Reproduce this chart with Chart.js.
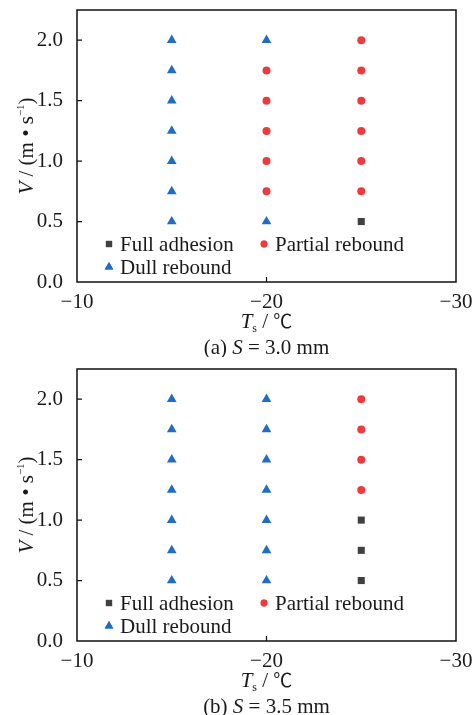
<!DOCTYPE html>
<html>
<head>
<meta charset="utf-8">
<script src="https://cdn.jsdelivr.net/npm/chart.js@4.4.1/dist/chart.umd.min.js"></script>
<style>
  html, body { margin: 0; padding: 0; background: #fff; overflow: hidden; }
  .panel { position: absolute; left: 0; width: 472px; height: 357px; }
</style>
</head>
<body>
<div class="panel" style="top:0"><canvas id="chartA" width="472" height="357"></canvas></div>
<div class="panel" style="top:359px"><canvas id="chartB" width="472" height="357"></canvas></div>
<script>
// surface temperature (x) and impact speed (y) values
const xTicks = [-10, -20, -30]
const yTicks = [0, 0.5, 1.0, 1.5, 2.0]

// (a) S = 3.0 mm
const fullA = [{x: -25, y: 0.5}]
const partialA = [
  {x: -20, y: 0.75}, {x: -20, y: 1.0}, {x: -20, y: 1.25}, {x: -20, y: 1.5}, {x: -20, y: 1.75},
  {x: -25, y: 0.75}, {x: -25, y: 1.0}, {x: -25, y: 1.25}, {x: -25, y: 1.5}, {x: -25, y: 1.75}, {x: -25, y: 2.0}
]
const dullA = [
  {x: -15, y: 0.5}, {x: -15, y: 0.75}, {x: -15, y: 1.0}, {x: -15, y: 1.25}, {x: -15, y: 1.5}, {x: -15, y: 1.75}, {x: -15, y: 2.0},
  {x: -20, y: 0.5}, {x: -20, y: 2.0}
]

// (b) S = 3.5 mm
const fullB = [{x: -25, y: 0.5}, {x: -25, y: 0.75}, {x: -25, y: 1.0}]
const partialB = [{x: -25, y: 1.25}, {x: -25, y: 1.5}, {x: -25, y: 1.75}, {x: -25, y: 2.0}]
const dullB = [
  {x: -15, y: 0.5}, {x: -15, y: 0.75}, {x: -15, y: 1.0}, {x: -15, y: 1.25}, {x: -15, y: 1.5}, {x: -15, y: 1.75}, {x: -15, y: 2.0},
  {x: -20, y: 0.5}, {x: -20, y: 0.75}, {x: -20, y: 1.0}, {x: -20, y: 1.25}, {x: -20, y: 1.5}, {x: -20, y: 1.75}, {x: -20, y: 2.0}
]

const seriesNames = ['Full adhesion', 'Partial rebound', 'Dull rebound']
const colors = ['#404040', '#ef3a3d', '#1f6dc5']
const styles = ['rect', 'circle', 'triangle']
const radii = [5, 4, 5.6]

const SERIF = '"Liberation Serif", "Times New Roman", serif'
const TXT = '#1a1a1a'
const minus = v => (v < 0 ? '\u2212' + Math.abs(v) : '' + v)

// draw a row of text pieces with different fonts (italic, sub/superscript)
function drawRuns(ctx, runs, x, y) {
  let total = 0
  runs.forEach(r => {
    ctx.font = `${r.italic ? 'italic ' : ''}${r.size}px ${r.family || SERIF}`
    r.w = ctx.measureText(r.text).width
    total += r.w
  })
  let cx = x - total / 2
  runs.forEach(r => {
    ctx.font = `${r.italic ? 'italic ' : ''}${r.size}px ${r.family || SERIF}`
    ctx.fillText(r.text, cx, y + (r.dy || 0))
    cx += r.w
  })
}

const decor = {
  id: 'decor',
  afterDraw(chart, args, opts) {
    const ctx = chart.ctx
    const a = chart.chartArea
    const xs = chart.scales.x, ys = chart.scales.y
    ctx.save()
    ctx.strokeStyle = '#111'
    ctx.lineWidth = 1.5
    ctx.strokeRect(a.left, a.top, a.right - a.left, a.bottom - a.top)
    // inward ticks
    ctx.lineWidth = 1.2
    ctx.beginPath()
    yTicks.slice(1).forEach(v => {
      const py = ys.getPixelForValue(v)
      ctx.moveTo(a.left, py); ctx.lineTo(a.left + 5, py)
    })
    const px = xs.getPixelForValue(-20)
    ctx.moveTo(px, a.bottom); ctx.lineTo(px, a.bottom - 5)
    ctx.stroke()

    // legend
    const H = Chart.helpers
    const items = [[109, 244], [264, 244], [109, 267]]
    ctx.textBaseline = 'middle'
    ctx.textAlign = 'left'
    ctx.font = `21px ${SERIF}`
    items.forEach((p, i) => {
      ctx.fillStyle = colors[i]
      ctx.strokeStyle = colors[i]
      H.drawPoint(ctx, {pointStyle: styles[i], radius: radii[i] - 0.6, rotation: 0, borderWidth: 0}, p[0], p[1])
      ctx.fill()
      ctx.fillStyle = TXT
      ctx.fillText(seriesNames[i], p[0] + 11, p[1] + 1)
    })

    // axis titles and caption
    ctx.fillStyle = TXT
    ctx.textBaseline = 'alphabetic'
    ctx.textAlign = 'left'
    drawRuns(ctx, [
      {text: 'T', italic: true, size: 21},
      {text: 's', size: 12, dy: 4},
      {text: ' / ', size: 21},
      {text: '\u2103', size: 19, family: '"Noto Sans CJK SC", sans-serif'}
    ], (a.left + a.right) / 2, 328)
    drawRuns(ctx, [
      {text: '(' + opts.tag + ') ', size: 21},
      {text: 'S', italic: true, size: 21},
      {text: ' = ' + opts.gap + ' mm', size: 21}
    ], (a.left + a.right) / 2, 354)
    ctx.translate(26, (a.top + a.bottom) / 2)
    ctx.rotate(-Math.PI / 2)
    drawRuns(ctx, [
      {text: 'V', italic: true, size: 21},
      {text: ' / (m \u2022 s', size: 21},
      {text: '\u22121', size: 11, dy: -9},
      {text: ')', size: 21}
    ], 0, 7)
    ctx.restore()
  }
}

function makeChart(id, full, partial, dull, tag, gap) {
  const data = [full, partial, dull]
  return new Chart(document.getElementById(id), {
    type: 'scatter',
    data: {
      datasets: data.map((d, i) => ({
        label: seriesNames[i],
        data: d,
        pointStyle: styles[i],
        pointRadius: radii[i],
        backgroundColor: colors[i],
        borderColor: colors[i],
        borderWidth: 0
      }))
    },
    options: {
      responsive: false,
      animation: false,
      layout: {padding: {top: 10, right: 16, left: 0, bottom: 0}},
      plugins: {
        legend: {display: false},
        tooltip: {enabled: false},
        decor: {tag, gap}
      },
      scales: {
        x: {
          type: 'linear', min: -30, max: -10, reverse: true,
          grid: {display: false},
          border: {display: false},
          afterFit: s => { s.height = 75; s.paddingLeft = 0; s.paddingRight = 0 },
          afterBuildTicks: s => { s.ticks = xTicks.map(v => ({value: v})) },
          ticks: {
            padding: 0, color: TXT, maxRotation: 0,
            font: {family: SERIF, size: 21},
            callback: v => minus(v)
          }
        },
        y: {
          min: 0, max: 2.25,
          grid: {display: false},
          border: {display: false},
          afterFit: s => { s.width = 77; s.paddingTop = 0; s.paddingBottom = 0 },
          afterBuildTicks: s => { s.ticks = yTicks.map(v => ({value: v})) },
          ticks: {
            padding: 6, color: TXT,
            font: {family: SERIF, size: 21},
            callback: v => v.toFixed(1)
          }
        }
      }
    },
    plugins: [decor]
  })
}

makeChart('chartA', fullA, partialA, dullA, 'a', '3.0')
makeChart('chartB', fullB, partialB, dullB, 'b', '3.5')
</script>
</body>
</html>
